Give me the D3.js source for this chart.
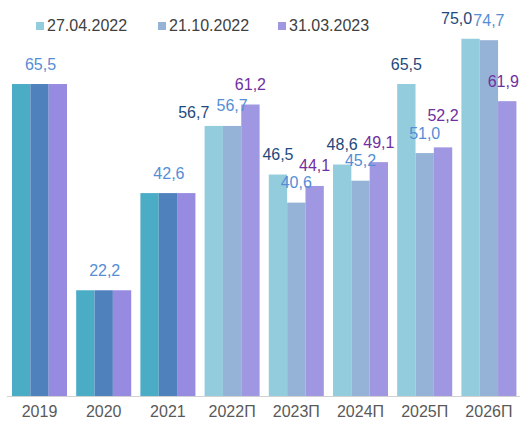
<!DOCTYPE html>
<html><head><meta charset="utf-8">
<script src="https://cdn.jsdelivr.net/npm/d3@7/dist/d3.min.js"></script>
<style>
html,body{margin:0;padding:0;background:#fff;}
svg{display:block;font-family:"Liberation Sans",Arial,sans-serif;}
</style></head>
<body>
<svg id="c" width="520" height="421"></svg>
<script>
const categories = ["2019","2020","2021","2022П","2023П","2024П","2025П","2026П"];
const seriesNames = ["27.04.2022","21.10.2022","31.03.2023"];
const s1 = [65.5,22.2,42.6,56.7,46.5,48.6,65.5,75.0];
const s2 = [65.5,22.2,42.6,56.7,40.6,45.2,51.0,74.7];
const s3 = [65.5,22.2,42.6,61.2,44.1,49.1,52.2,61.9];
const historical = ["2019","2020","2021"];

const values = [s1,s2,s3];
const histColors = ["#4BACC6","#4F81BD","#968BE0"];
const fcColors = ["#93CDDD","#95B3D7","#9F97E2"];
const labelColors = ["#1F497D","#558ED5","#7030A0"];
const histLabelColor = "#558ED5";
// manual label nudges (style): [category, series, dx, dy]
const nudges = [["2022П",0,-20,7],["2025П",2,0,-12],["2026П",0,-14,0],["2026П",2,-4,0]];

const svg = d3.select("#c");
const baseY = 396;
const x = d3.scaleBand().domain(categories).range([7.4,521]).paddingInner(0.143).paddingOuter(0.0715);
const xs = d3.scaleBand().domain(d3.range(3)).range([0,x.bandwidth()]);
const y = d3.scaleLinear().domain([0,80]).range([baseY, baseY-80*4.763]);

const fmt = v => d3.format(".1f")(v).replace(".",",");

const g = svg.append("g");
categories.forEach((c,ci)=>{
  const isH = historical.includes(c);
  values.forEach((arr,si)=>{
    g.append("rect")
      .attr("x", x(c)+xs(si))
      .attr("y", y(arr[ci]))
      .attr("width", xs.bandwidth())
      .attr("height", baseY - y(arr[ci]))
      .attr("fill", isH ? histColors[si] : fcColors[si]);
  });
});

// axis
const axis = d3.axisBottom(x).tickSize(0).tickPadding(0);
const ag = svg.append("g").attr("transform",`translate(0,${baseY})`).call(axis);
ag.select(".domain").attr("stroke","#D0D0D0").attr("stroke-width",1.2).attr("d","M7,0.5H520");
ag.selectAll("text").attr("font-size",16).attr("fill","#595959").attr("dy",null).attr("y",21)
  .style("font-family","'Liberation Sans',Arial,sans-serif");

// labels
const lg = svg.append("g").attr("font-size",16).attr("text-anchor","middle");
categories.forEach((c,ci)=>{
  const isH = historical.includes(c);
  if(isH){
    lg.append("text").attr("x", x(c)+x.bandwidth()/2+1).attr("y", y(s2[ci])-14.5)
      .attr("fill",histLabelColor).text(fmt(s2[ci]));
  } else {
    values.forEach((arr,si)=>{
      const n = nudges.find(d=>d[0]===c && d[1]===si);
      const dx = n?n[2]:0, dy = n?n[3]:0;
      lg.append("text").attr("x", x(c)+xs(si)+xs.bandwidth()/2+dx).attr("y", y(arr[ci])-14.5+dy)
        .attr("fill",labelColors[si]).text(fmt(arr[ci]));
    });
  }
});

// legend
const legX = [36,158,278];
const leg = svg.append("g");
seriesNames.forEach((s,i)=>{
  leg.append("rect").attr("x",legX[i]).attr("y",22).attr("width",8).attr("height",8).attr("fill",fcColors[i]);
  leg.append("text").attr("x",legX[i]+11).attr("y",31).attr("font-size",16).attr("fill","#404040").text(s);
});
</script>
</body></html>
